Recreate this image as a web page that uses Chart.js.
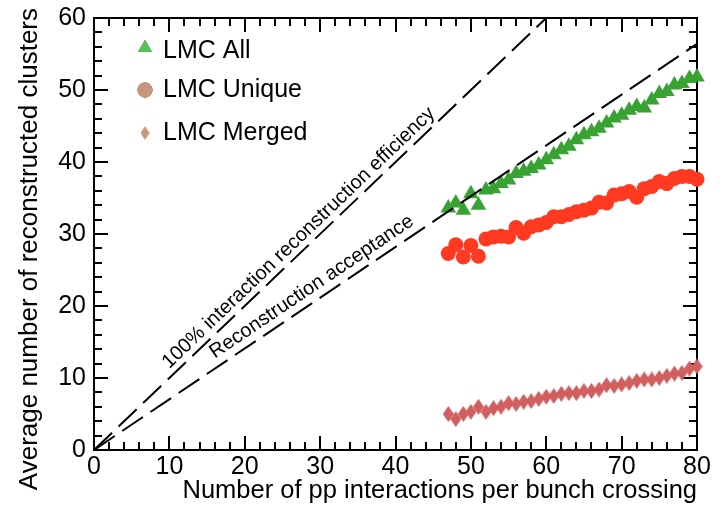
<!DOCTYPE html>
<html>
<head>
<meta charset="utf-8">
<script src="https://cdn.jsdelivr.net/npm/chart.js@4.4.1/dist/chart.umd.min.js"></script>
<style>
html, body { margin: 0; padding: 0; background: #fff; }
#wrap { width: 722px; height: 506px; }
</style>
</head>
<body>
<div id="wrap"><canvas id="myChart" width="722" height="506"></canvas></div>
<script>
// values
const interactions = [47, 48, 49, 50, 51, 52, 53, 54, 55, 56, 57, 58, 59, 60, 61, 62, 63,
    64, 65, 66, 67, 68, 69, 70, 71, 72, 73, 74, 75, 76, 77, 78, 79, 80];
const lmcAll = [33.6, 34.3, 33.3, 35.6, 34.0, 36.1, 36.3, 37.0, 37.5, 38.4, 38.7, 39.1, 39.6, 40.3, 41.0, 41.7, 42.2,
    43.1, 43.8, 44.2, 44.7, 45.4, 46.1, 46.5, 47.2, 47.7, 47.5, 48.6, 49.5, 49.8, 50.7, 50.9, 51.6, 51.8];
const lmcUnique = [27.3, 28.5, 26.8, 28.4, 26.9, 29.3, 29.6, 29.7, 29.6, 30.9, 30.1, 31.0, 31.25, 31.6, 32.4, 32.4, 32.7,
    33.1, 33.3, 33.6, 34.4, 34.3, 35.4, 35.6, 35.9, 35.1, 36.3, 36.6, 37.3, 37.0, 37.7, 38.0, 38.0, 37.6];
const lmcMerged = [5.0, 4.3, 5.0, 5.3, 6.0, 5.3, 5.8, 6.0, 6.5, 6.4, 6.7, 6.8, 7.1, 7.4, 7.5, 7.8, 7.9,
    7.9, 8.2, 8.2, 8.4, 9.0, 8.9, 9.1, 9.3, 9.6, 9.8, 9.8, 10.0, 10.3, 10.6, 10.7, 11.3, 11.6];
const seriesNames = ['LMC All', 'LMC Unique', 'LMC Merged'];

// reference lines (x, y)
const efficiencyLine = [[0, 0], [60, 60]];
const acceptanceLine = [[0, 0], [80, 56.4]];
const lineNames = ['100% interaction reconstruction efficiency', 'Reconstruction acceptance'];

const xTicks = [0, 10, 20, 30, 40, 50, 60, 70, 80];
const yTicks = [0, 10, 20, 30, 40, 50, 60];
const xTitle = 'Number of pp interactions per bunch crossing';
const yTitle = 'Average number of reconstructed clusters';

const FONT = '"Liberation Sans", Arial, Helvetica, sans-serif';

function toPoints(xs, ys) {
    return xs.map((x, i) => ({ x: x, y: ys[i] }));
}
function pairsToPoints(pairs) {
    return pairs.map(p => ({ x: p[0], y: p[1] }));
}

// tall diamond marker
function makeDiamond(w, h, color) {
    const c = document.createElement('canvas');
    c.width = w; c.height = h;
    const g = c.getContext('2d');
    g.fillStyle = color;
    g.beginPath();
    g.moveTo(w / 2, 0);
    g.lineTo(w, h / 2);
    g.lineTo(w / 2, h);
    g.lineTo(0, h / 2);
    g.closePath();
    g.fill();
    return c;
}
const diamondData = makeDiamond(11, 16, '#d15f5f');
const diamondLegend = makeDiamond(9, 14, '#c8967b');

const legendItems = [
    { style: 'triangle', color: '#55c455', radius: 8 },
    { style: 'circle', color: '#c8967b', radius: 7.5 },
    { style: diamondLegend, color: '#c8967b', radius: 6 }
];

// box with inward ticks, legend, y title and line captions
const framePlugin = {
    id: 'frame',
    beforeDatasetsDraw(chart) {
        const ctx = chart.ctx;
        const a = chart.chartArea;
        const xs = chart.scales.x, ys = chart.scales.y;
        ctx.save();
        ctx.strokeStyle = '#000';
        ctx.lineWidth = 2;
        ctx.strokeRect(a.left, a.top, a.right - a.left, a.bottom - a.top);
        ctx.beginPath();
        for (let v = xs.min; v <= xs.max; v += 2) {
            const len = v % 10 === 0 ? 14 : 8;
            const px = Math.round(xs.getPixelForValue(v));
            ctx.moveTo(px, a.bottom); ctx.lineTo(px, a.bottom - len);
            ctx.moveTo(px, a.top); ctx.lineTo(px, a.top + len);
        }
        for (let v = ys.min; v <= ys.max; v += 2) {
            const len = v % 10 === 0 ? 14 : 8;
            const py = Math.round(ys.getPixelForValue(v));
            ctx.moveTo(a.left, py); ctx.lineTo(a.left + len, py);
            ctx.moveTo(a.right, py); ctx.lineTo(a.right - len, py);
        }
        ctx.stroke();
        ctx.restore();
    },
    afterDraw(chart) {
        const ctx = chart.ctx;
        const a = chart.chartArea;
        const xs = chart.scales.x, ys = chart.scales.y;
        ctx.save();

        // y title
        ctx.save();
        ctx.font = '26px ' + FONT;
        ctx.fillStyle = '#000';
        ctx.textAlign = 'right';
        ctx.textBaseline = 'middle';
        ctx.translate(30, 8);
        ctx.rotate(-Math.PI / 2);
        ctx.fillText(yTitle, 0, 0);
        ctx.restore();

        // legend
        ctx.font = '25px ' + FONT;
        ctx.fillStyle = '#000';
        ctx.textBaseline = 'alphabetic';
        const rowsY = [30, 72, 115];
        const baseY = [40, 79, 122];
        legendItems.forEach((it, i) => {
            Chart.helpers.drawPoint(ctx, {
                pointStyle: it.style, radius: it.radius, rotation: 0, borderWidth: 0
            }, a.left + 51, a.top + rowsY[i]);
            ctx.fillStyle = it.color;
            ctx.fill();
            ctx.fillStyle = '#000';
            ctx.fillText(seriesNames[i], a.left + 69, a.top + baseY[i]);
        });

        // captions along the dashed lines
        ctx.font = '20px ' + FONT;
        ctx.textAlign = 'center';
        ctx.textBaseline = 'middle';
        const caption = (line, atX, offset, text) => {
            const p0 = line[0], p1 = line[1];
            const k = (p1[1] - p0[1]) / (p1[0] - p0[0]);
            const x0 = xs.getPixelForValue(p0[0]), y0 = ys.getPixelForValue(p0[1]);
            const x1 = xs.getPixelForValue(p1[0]), y1 = ys.getPixelForValue(p1[1]);
            const ang = Math.atan2(y1 - y0, x1 - x0);
            const px = xs.getPixelForValue(atX), py = ys.getPixelForValue(k * atX);
            ctx.save();
            ctx.translate(px, py);
            ctx.rotate(ang);
            ctx.fillText(text, 0, -offset);
            ctx.restore();
        };
        caption(efficiencyLine, 28.25, 12, lineNames[0]);
        caption(acceptanceLine, 29.9, 13.7, lineNames[1]);
        ctx.restore();
    }
};

function showChart() {
    const ctx = document.getElementById('myChart').getContext('2d');
    const dashed = {
        type: 'line',
        borderColor: '#000',
        borderWidth: 2,
        borderDash: [25, 9],
        pointRadius: 0,
        fill: false,
        order: 0
    };
    const data = {
        datasets: [
            Object.assign({ label: lineNames[0], data: pairsToPoints(efficiencyLine) }, dashed),
            Object.assign({ label: lineNames[1], data: pairsToPoints(acceptanceLine) }, dashed),
            {
                label: seriesNames[0],
                data: toPoints(interactions, lmcAll),
                pointStyle: 'triangle',
                pointRadius: 9,
                backgroundColor: '#38a333',
                borderColor: '#38a333',
                borderWidth: 0,
                clip: false,
                order: 1
            },
            {
                label: seriesNames[1],
                data: toPoints(interactions, lmcUnique),
                pointStyle: 'circle',
                pointRadius: 7.5,
                backgroundColor: '#ff3a20',
                borderColor: '#ff3a20',
                borderWidth: 0,
                clip: false,
                order: 2
            },
            {
                label: seriesNames[2],
                data: toPoints(interactions, lmcMerged),
                pointStyle: diamondData,
                pointRadius: 8,
                backgroundColor: '#d15f5f',
                borderWidth: 0,
                clip: false,
                order: 3
            }
        ]
    };
    const tickFont = { family: FONT, size: 25 };
    const options = {
        responsive: false,
        animation: false,
        layout: { padding: { top: 18, right: 25, left: 0, bottom: 0 } },
        plugins: {
            legend: { display: false },
            tooltip: { enabled: false }
        },
        scales: {
            x: {
                type: 'linear',
                min: 0,
                max: 80,
                afterBuildTicks: s => { s.ticks = xTicks.map(v => ({ value: v })); },
                afterFit: s => { s.height = 56; s.paddingLeft = 0; s.paddingRight = 0; },
                ticks: { color: '#000', font: tickFont, padding: 2, maxRotation: 0 },
                grid: { display: false, drawTicks: false },
                border: { display: false },
                title: {
                    display: true,
                    text: xTitle,
                    align: 'end',
                    color: '#000',
                    font: { family: FONT, size: 25.5 },
                    padding: { top: 0, bottom: 0 }
                }
            },
            y: {
                type: 'linear',
                min: 0,
                max: 60,
                afterBuildTicks: s => { s.ticks = yTicks.map(v => ({ value: v })); },
                afterFit: s => { s.width = 94; s.paddingTop = 0; s.paddingBottom = 0; },
                ticks: { color: '#000', font: tickFont, padding: 8 },
                grid: { display: false, drawTicks: false },
                border: { display: false },
                title: { display: false }
            }
        }
    };

    new Chart(ctx, {
        type: 'scatter',
        data: data,
        options: options,
        plugins: [framePlugin]
    });
}

document.addEventListener('DOMContentLoaded', (event) => {
    showChart();
});
</script>
</body>
</html>
